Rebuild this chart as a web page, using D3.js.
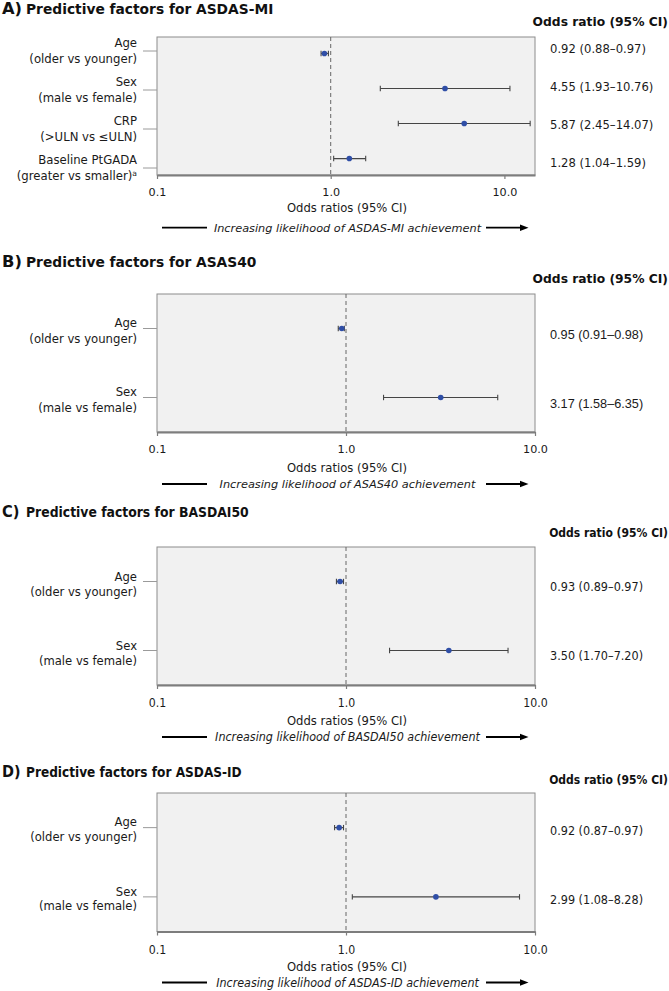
<!DOCTYPE html>
<html><head><meta charset="utf-8">
<script src="https://cdn.jsdelivr.net/npm/d3@7"></script>
<style>body{margin:0;background:#fff} svg{display:block}</style>
</head><body>
<svg id="c" width="669" height="991"></svg>
<script>
// ---------- DATA ----------
const panelLetters = ["A)", "B)", "C)", "D)"];
const outcomes = ["ASDAS-MI", "ASAS40", "BASDAI50", "ASDAS-ID"];

const factorNamesA = ["Age", "Sex", "CRP", "Baseline PtGADA"];
const factorCompsA = ["(older vs younger)", "(male vs female)", "(>ULN vs \u2264ULN)", "(greater vs smaller)"];
const factorNotesA = ["", "", "", "a"];
const factorNamesOther = ["Age", "Sex"];
const factorCompsOther = ["(older vs younger)", "(male vs female)"];
const factorNotesOther = ["", ""];

const oddsA = [0.92, 4.55, 5.87, 1.28];
const lowerA = [0.88, 1.93, 2.45, 1.04];
const upperA = [0.97, 10.76, 14.07, 1.59];

const oddsB = [0.95, 3.17];
const lowerB = [0.91, 1.58];
const upperB = [0.98, 6.35];

const oddsC = [0.93, 3.50];
const lowerC = [0.89, 1.70];
const upperC = [0.97, 7.20];

const oddsD = [0.92, 2.99];
const lowerD = [0.87, 1.08];
const upperD = [0.97, 8.28];

const tickValues = [0.1, 1, 10];
const tickLabels = ["0.1", "1.0", "10.0"];
const referenceValue = 1;
const axisMaxA = 15;
const axisMaxOther = 10;
const axisTitle = "Odds ratios (95% CI)";
const headerText = "Odds ratio (95% CI)";

// ---------- LAYOUT / STYLE ----------
const X0 = 157, X1 = 535;
const layouts = [
  {top:37,  bottom:175,   titleY:9,   headerY:21.7, pad:0.47, labelRange:[51,168], valueRange:[49,163],
   lab:[-8,8], axTitleDy:33, arrowDy:52.7,
   font:"DejaVu Sans", stretch:"normal", labSize:11.7, valFont:"DejaVu Sans", valStretch:"normal", valSize:11.6,
   headSize:12.3, titleSize:13.8, tickSize:11.2, axSize:11.6, itSize:11.3},
  {top:294, bottom:432,   titleY:262, headerY:279,  pad:0.5, valueOffset:5.5,
   lab:[-5.5,10], axTitleDy:36, arrowDy:52,
   font:"DejaVu Sans", stretch:"normal", labSize:11.7, valFont:"Liberation Sans", valStretch:"normal", valSize:12.7,
   headSize:12.3, titleSize:13.8, tickSize:11.2, axSize:11.6, itSize:11.3},
  {top:547, bottom:685,   titleY:512, headerY:533,  pad:0.5, valueOffset:5,
   lab:[-5,9.5], axTitleDy:35, arrowDy:52,
   font:"DejaVu Sans Condensed", stretch:"condensed", labSize:12.9, valFont:"DejaVu Sans Condensed", valStretch:"condensed", valSize:12.5,
   headSize:12, titleSize:13.8, tickSize:12.2, axSize:12.9, itSize:12.4},
  {top:793, bottom:931.5, titleY:772, headerY:780,  pad:0.5, valueOffset:3,
   lab:[-6,8.5], axTitleDy:34.5, arrowDy:51,
   font:"DejaVu Sans Condensed", stretch:"condensed", labSize:12.9, valFont:"DejaVu Sans Condensed", valStretch:"condensed", valSize:12.5,
   headSize:12, titleSize:13.5, tickSize:12.2, axSize:12.9, itSize:12.4}
];

const panels = [
  {names:factorNamesA, comps:factorCompsA, notes:factorNotesA, odds:oddsA, lower:lowerA, upper:upperA, xMax:axisMaxA},
  {names:factorNamesOther, comps:factorCompsOther, notes:factorNotesOther, odds:oddsB, lower:lowerB, upper:upperB, xMax:axisMaxOther},
  {names:factorNamesOther, comps:factorCompsOther, notes:factorNotesOther, odds:oddsC, lower:lowerC, upper:upperC, xMax:axisMaxOther},
  {names:factorNamesOther, comps:factorCompsOther, notes:factorNotesOther, odds:oddsD, lower:lowerD, upper:upperD, xMax:axisMaxOther}
];

const svg = d3.select("#c");
const txtCol = "#1a1a1a";
const fmt = d3.format(".2f");

panels.forEach((p, i) => {
  const L = layouts[i];
  const g = svg.append("g");
  const x = d3.scaleLog().domain([tickValues[0], p.xMax]).range([X0, X1]);
  const idx = d3.range(p.odds.length);
  const y = d3.scalePoint().domain(idx).range([L.top, L.bottom]).padding(L.pad);
  const yLab = L.labelRange ? d3.scalePoint().domain(idx).range(L.labelRange) : y;
  const yVal = L.valueRange ? d3.scalePoint().domain(idx).range(L.valueRange) : (d => y(d) + L.valueOffset);

  const setFont = (sel, fam, str, size) => sel.attr("font-family", fam + ", 'DejaVu Sans', sans-serif")
      .style("font-stretch", str).attr("font-size", size);

  // Title
  const title = g.append("text").attr("y", L.titleY).attr("dy", "0.36em").attr("fill", "#111")
     .attr("font-weight", "bold");
  setFont(title, L.font, L.stretch, L.titleSize);
  title.append("tspan").attr("x", 2).attr("font-size", L.titleSize + 2.5).text(panelLetters[i]);
  title.append("tspan").attr("x", 26).text("Predictive factors for " + outcomes[i]);

  // Header
  const head = g.append("text").attr("x", 668).attr("y", L.headerY).attr("dy", "0.36em")
     .attr("text-anchor", "end").attr("font-weight", "bold").attr("fill", "#111").text(headerText);
  setFont(head, L.font, L.stretch, L.headSize);

  // Plot box
  g.append("rect").attr("x", X0).attr("y", L.top).attr("width", X1 - X0).attr("height", L.bottom - L.top)
   .attr("fill", "#f1f1f1").attr("stroke", "#8c8c8c").attr("stroke-width", 1);

  // Reference line
  g.append("line").attr("x1", x(referenceValue)).attr("x2", x(referenceValue))
   .attr("y1", L.top).attr("y2", L.bottom)
   .attr("stroke", "#666").attr("stroke-width", 1).attr("stroke-dasharray", "4,3");

  // Axis
  const axis = d3.axisBottom(x).tickValues(tickValues).tickFormat((d, k) => tickLabels[k])
     .tickSizeInner(4).tickSizeOuter(0).tickPadding(9);
  const ax = g.append("g").attr("transform", `translate(0,${L.bottom})`).call(axis);
  ax.select(".domain").attr("stroke", "#7d7d7d").attr("stroke-width", 2);
  ax.selectAll(".tick line").attr("stroke", "#7d7d7d").attr("stroke-width", 1.2);
  ax.selectAll(".tick text").attr("fill", txtCol).attr("dy", "0.75em");
  setFont(ax, L.font, L.stretch, L.tickSize);
  ax.selectAll("text").style("font-stretch", L.stretch);

  // Axis title
  const at = g.append("text").attr("x", 347).attr("y", L.bottom + L.axTitleDy).attr("dy", "0.36em")
    .attr("text-anchor", "middle").attr("fill", txtCol).text(axisTitle);
  setFont(at, L.font, L.stretch, L.axSize);

  // Arrow line with italic text
  const ay = L.bottom + L.arrowDy;
  g.append("line").attr("x1", 162).attr("x2", 207).attr("y1", ay).attr("y2", ay)
   .attr("stroke", "#000").attr("stroke-width", 1.8);
  g.append("line").attr("x1", 486).attr("x2", 521).attr("y1", ay).attr("y2", ay)
   .attr("stroke", "#000").attr("stroke-width", 1.8);
  g.append("path").attr("d", `M520,${ay - 3.2}L528.5,${ay}L520,${ay + 3.2}Z`).attr("fill", "#000");
  const it = g.append("text").attr("x", 347.5).attr("y", ay).attr("dy", "0.36em")
    .attr("text-anchor", "middle").attr("font-style", "italic").attr("fill", txtCol)
    .text(`Increasing likelihood of ${outcomes[i]} achievement`);
  setFont(it, L.font, L.stretch, L.itSize);

  // Row ticks + labels
  idx.forEach(k => {
    const ty = yLab(k);
    g.append("line").attr("x1", 143).attr("x2", X0).attr("y1", ty).attr("y2", ty)
     .attr("stroke", "#9a9a9a").attr("stroke-width", 1);
    const t1 = g.append("text").attr("x", 137).attr("y", ty + L.lab[0]).attr("dy", "0.36em")
      .attr("text-anchor", "end").attr("fill", txtCol).text(p.names[k]);
    setFont(t1, L.font, L.stretch, L.labSize);
    const t2 = g.append("text").attr("x", 137).attr("y", ty + L.lab[1]).attr("dy", "0.36em")
      .attr("text-anchor", "end").attr("fill", txtCol);
    setFont(t2, L.font, L.stretch, L.labSize);
    t2.append("tspan").text(p.comps[k]);
    if (p.notes[k]) {
      t2.append("tspan").attr("font-size", L.labSize * 0.65).attr("dy", "-0.55em").text(p.notes[k]);
    }
  });

  // Value column
  idx.forEach(k => {
    const v = g.append("text").attr("x", 550).attr("y", yVal(k)).attr("dy", "0.36em").attr("fill", txtCol)
      .text(`${fmt(p.odds[k])} (${fmt(p.lower[k])}\u2013${fmt(p.upper[k])})`);
    setFont(v, L.valFont, L.valStretch, L.valSize);
  });

  // Error bars and points
  const rows = g.append("g").selectAll("g").data(idx).join("g");
  rows.append("line").attr("x1", k => x(p.lower[k])).attr("x2", k => x(p.upper[k]))
      .attr("y1", k => y(k)).attr("y2", k => y(k)).attr("stroke", "#454545").attr("stroke-width", 1.2);
  rows.append("line").attr("x1", k => x(p.lower[k])).attr("x2", k => x(p.lower[k]))
      .attr("y1", k => y(k) - 2.7).attr("y2", k => y(k) + 2.7).attr("stroke", "#454545").attr("stroke-width", 1.1);
  rows.append("line").attr("x1", k => x(p.upper[k])).attr("x2", k => x(p.upper[k]))
      .attr("y1", k => y(k) - 2.7).attr("y2", k => y(k) + 2.7).attr("stroke", "#454545").attr("stroke-width", 1.1);
  rows.append("circle").attr("cx", k => x(p.odds[k])).attr("cy", k => y(k)).attr("r", 2.8).attr("fill", "#2f4ea6");
});
</script>
</body></html>
